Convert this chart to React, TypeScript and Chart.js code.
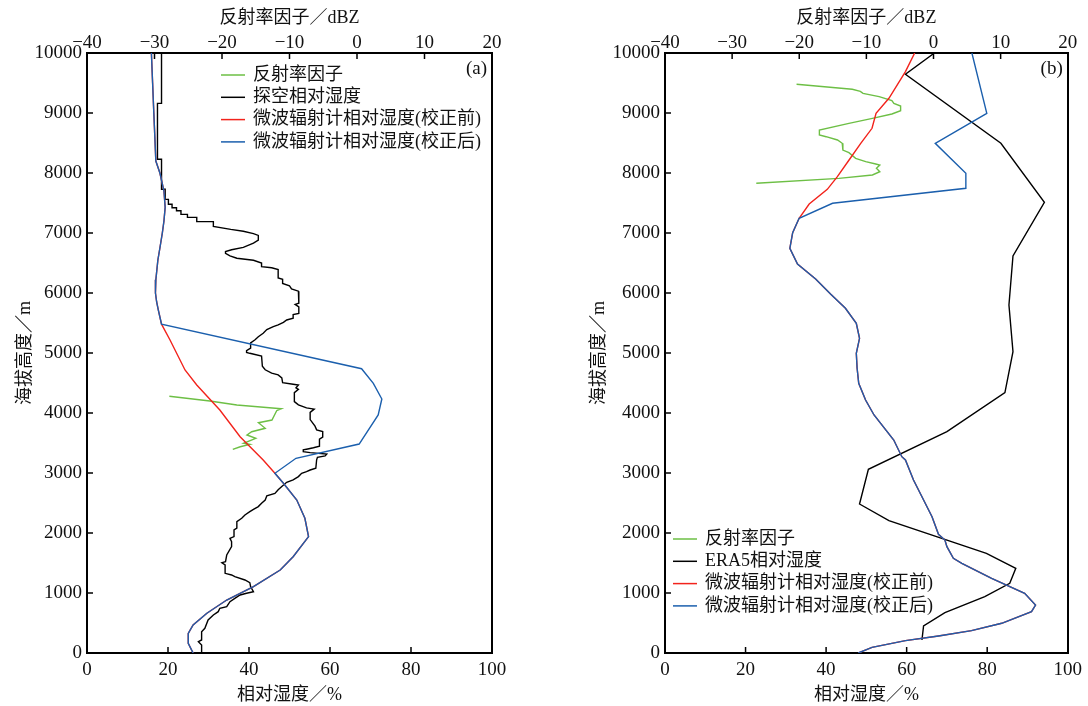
import React, { useEffect, useRef } from "react";
import { Chart, registerables } from "chart.js";

Chart.register(...registerables);

// ---------------- Panel (a) data ----------------
const aSondeRH = [18.4, 18.4, 17.4, 17.4, 18.4, 18.4, 19.3, 19.3, 20.1, 20.1, 21.0, 21.0, 22.1, 22.1, 23.2, 23.2, 24.8, 24.8, 27.1, 27.1, 31.2, 31.2, 35.5, 38.6, 41.1, 42.3, 42.3, 41.1, 38.6, 35.7, 34.2, 34.2, 35.3, 37.0, 41.1, 43.1, 43.1, 45.6, 47.2, 47.2, 48.3, 48.3, 50.0, 50.5, 52.2, 52.3, 52.3, 51.4, 52.3, 52.3, 50.9, 50.9, 49.3, 48.5, 47.2, 46.0, 44.4, 43.5, 42.3, 41.5, 40.4, 40.4, 39.4, 39.4, 40.2, 43.1, 43.3, 44.0, 45.6, 47.2, 48.1, 48.3, 50.9, 52.2, 51.6, 52.2, 51.2, 51.2, 52.2, 54.2, 56.1, 55.1, 55.1, 56.3, 56.7, 58.2, 58.2, 57.4, 57.4, 55.9, 54.5, 53.4, 53.4, 55.1, 59.2, 58.8, 56.9, 56.7, 56.5, 55.1, 54.2, 53.0, 52.2, 50.9, 49.3, 48.1, 47.2, 46.4, 44.4, 44.0, 43.1, 42.3, 41.1, 40.2, 39.0, 38.2, 37.0, 37.0, 36.3, 36.3, 35.3, 35.7, 35.7, 34.5, 34.2, 33.3, 34.1, 34.1, 35.7, 36.5, 39.0, 40.2, 40.4, 41.1, 39.4, 37.8, 36.5, 35.3, 34.5, 32.8, 32.4, 31.2, 29.9, 29.1, 28.3, 28.3, 27.5, 28.3, 28.3];
const aSondeH = [10000, 9160, 9160, 8230, 8230, 7730, 7730, 7560, 7560, 7480, 7480, 7420, 7420, 7370, 7370, 7310, 7310, 7260, 7260, 7190, 7190, 7110, 7060, 7030, 6990, 6960, 6880, 6830, 6760, 6720, 6690, 6660, 6620, 6580, 6545, 6500, 6440, 6420, 6390, 6250, 6230, 6160, 6120, 6070, 6030, 6020, 5830, 5810, 5770, 5660, 5640, 5580, 5550, 5510, 5470, 5440, 5390, 5330, 5270, 5220, 5170, 5080, 5040, 5010, 4995, 4950, 4780, 4720, 4665, 4635, 4585, 4505, 4480, 4467, 4420, 4395, 4340, 4190, 4135, 4085, 4065, 4010, 3890, 3780, 3720, 3690, 3600, 3565, 3445, 3420, 3400, 3385, 3355, 3340, 3315, 3285, 3262, 3220, 3080, 3050, 3022, 2995, 2940, 2885, 2845, 2775, 2720, 2660, 2620, 2550, 2495, 2440, 2395, 2355, 2300, 2245, 2190, 2080, 2050, 1940, 1910, 1855, 1772, 1633, 1522, 1505, 1467, 1328, 1300, 1272, 1217, 1172, 1105, 1022, 995, 967, 911, 855, 772, 745, 689, 633, 550, 412, 355, 217, 189, 133, 0];

const aBlueRH = [15.9, 16.2, 16.5, 17.0, 18.0, 19.0, 19.3, 19.0, 18.6, 18.0, 17.5, 17.0, 16.9, 17.2, 17.6, 18.4, 67.8, 70.7, 72.8, 71.9, 67.2, 51.6, 46.4, 48.5, 51.8, 53.8, 54.7, 50.9, 47.7, 41.1, 34.5, 29.6, 26.2, 25.0, 25.0, 26.2];
const aBlueH = [10000, 9500, 9000, 8200, 8000, 7700, 7430, 7200, 7000, 6750, 6550, 6220, 6000, 5850, 5720, 5480, 4738, 4495, 4233, 3967, 3483, 3245, 2995, 2828, 2550, 2245, 1940, 1605, 1383, 1105, 883, 662, 467, 328, 162, 0];

const aRedRH = [15.9, 16.2, 16.5, 17.0, 18.0, 19.0, 19.3, 19.0, 18.6, 18.0, 17.5, 17.0, 16.9, 17.2, 17.6, 18.4, 20.5, 24.2, 27.1, 32.8, 37.8, 43.5, 46.4, 48.5, 51.8, 53.8, 54.7, 50.9, 47.7, 41.1, 34.5, 29.6, 26.2, 25.0, 25.0, 26.2];
const aRedH = [10000, 9500, 9000, 8200, 8000, 7700, 7430, 7200, 7000, 6750, 6550, 6220, 6000, 5850, 5720, 5480, 5217, 4717, 4467, 4050, 3605, 3217, 2995, 2828, 2550, 2245, 1940, 1605, 1383, 1105, 883, 662, 467, 328, 162, 0];

const aDbz = [-27.8, -21.8, -17.8, -11.2, -11.9, -12.6, -14.6, -13.6, -15.6, -16.3, -15.0, -16.8, -15.9, -17.3, -18.4];
const aDbzH = [4278, 4200, 4133, 4072, 4038, 3883, 3838, 3745, 3688, 3633, 3578, 3495, 3478, 3438, 3395];

// ---------------- Panel (b) data ----------------
const bEraRH = [66.9, 59.7, 83.4, 94.2, 86.4, 85.4, 86.4, 84.4, 70.0, 50.5, 48.3, 55.6, 79.8, 87.1, 85.6, 79.4, 69.5, 64.2, 63.8];
const bEraH = [10000, 9645, 8495, 7512, 6617, 5800, 5022, 4339, 3689, 3061, 2483, 2206, 1661, 1411, 1161, 939, 672, 450, 217];

const bBlueRH = [76.2, 79.9, 67.1, 74.7, 74.7, 41.6, 33.3, 31.7, 31.0, 32.9, 37.4, 41.1, 44.8, 47.5, 48.3, 47.5, 47.7, 48.1, 49.8, 51.9, 56.8, 58.8, 59.7, 61.7, 63.8, 66.3, 67.9, 69.5, 70.0, 71.6, 73.7, 81.1, 89.3, 92.0, 91.0, 83.6, 76.1, 67.9, 59.7, 51.4, 48.0];
const bBlueH = [10000, 8995, 8495, 7995, 7745, 7495, 7245, 7005, 6745, 6483, 6233, 5983, 5745, 5495, 5245, 4995, 4745, 4495, 4217, 3967, 3550, 3272, 3217, 2883, 2605, 2272, 1978, 1883, 1772, 1578, 1495, 1245, 995, 800, 689, 495, 372, 283, 206, 94, 0];

const bRedRH = [62.0, 59.7, 55.6, 52.4, 51.4, 48.6, 45.7, 42.8, 40.3, 35.8, 33.3, 31.7, 31.0, 32.9, 37.4, 41.1, 44.8, 47.5, 48.3, 47.5, 47.7, 48.1, 49.8, 51.9, 56.8, 58.8, 59.7, 61.7, 63.8, 66.3, 67.9, 69.5, 70.0, 71.6, 73.7, 81.1, 89.3, 92.0, 91.0, 83.6, 76.1, 67.9, 59.7, 51.4, 48.0];
const bRedH = [10000, 9690, 9245, 8995, 8745, 8495, 8217, 7939, 7728, 7483, 7245, 7005, 6745, 6483, 6233, 5983, 5745, 5495, 5245, 4995, 4745, 4495, 4217, 3967, 3550, 3272, 3217, 2883, 2605, 2272, 1978, 1883, 1772, 1578, 1495, 1245, 995, 800, 689, 495, 372, 283, 206, 94, 0];

const bDbz = [-20.4, -12.1, -10.9, -10.5, -8.1, -6.2, -5.9, -4.9, -4.9, -6.2, -9.1, -12.6, -17.0, -17.0, -16.0, -14.3, -13.6, -13.5, -12.6, -11.6, -10.1, -8.6, -8.0, -8.5, -8.0, -9.1, -14.1, -26.4];
const bDbzH = [9478, 9395, 9361, 9328, 9272, 9206, 9161, 9117, 9039, 8983, 8911, 8828, 8717, 8633, 8605, 8550, 8495, 8383, 8339, 8245, 8189, 8150, 8133, 8078, 8022, 7967, 7911, 7828];

// ---------------- Labels ----------------
const legendA = ["反射率因子", "探空相对湿度", "微波辐射计相对湿度(校正前)", "微波辐射计相对湿度(校正后)"];
const legendB = ["反射率因子", "ERA5相对湿度", "微波辐射计相对湿度(校正前)", "微波辐射计相对湿度(校正后)"];
const xTitle = "相对湿度／%";
const x2Title = "反射率因子／dBZ";
const yTitle = "海拔高度／m";

const GREEN = "#6dbf45";
const BLACK = "#000000";
const RED = "#f2231c";
const BLUE = "#1b5fad";
const FONT = "'Liberation Serif', 'Times New Roman', 'Noto Sans CJK SC', serif";

const pairs = (xs: number[], ys: number[]) => xs.map((x, i) => ({ x, y: ys[i] }));
const minus = (v: any) => String(v).replace("-", "\u2212");

const inwardTicks = {
  id: "inwardTicks",
  afterDraw(chart: any) {
    const ctx = chart.ctx;
    const a = chart.chartArea;
    const L = 6;
    ctx.save();
    ctx.strokeStyle = "#000";
    ctx.lineWidth = 1.5;
    const line = (x1: number, y1: number, x2: number, y2: number) => {
      ctx.beginPath();
      ctx.moveTo(x1, y1);
      ctx.lineTo(x2, y2);
      ctx.stroke();
    };
    const sx = chart.scales.x;
    sx.ticks.forEach((t: any) => {
      const p = sx.getPixelForValue(t.value);
      line(p, a.bottom, p, a.bottom - L);
    });
    const sx2 = chart.scales.x2;
    sx2.ticks.forEach((t: any) => {
      const p = sx2.getPixelForValue(t.value);
      line(p, a.top, p, a.top + L);
    });
    const sy = chart.scales.y;
    sy.ticks.forEach((t: any) => {
      const p = sy.getPixelForValue(t.value);
      line(a.left, p, a.left + L, p);
    });
    ctx.restore();
  },
};

const customLegend = {
  id: "customLegend",
  afterDraw(chart: any, _args: any, opts: any) {
    const ctx = chart.ctx;
    const a = chart.chartArea;
    ctx.save();
    ctx.font = `18px ${FONT}`;
    ctx.textBaseline = "middle";
    ctx.textAlign = "left";
    opts.items.forEach((label: string, i: number) => {
      const y = opts.y0 + i * opts.spacing;
      ctx.strokeStyle = opts.colors[i];
      ctx.lineWidth = 1.5;
      ctx.beginPath();
      ctx.moveTo(opts.x0, y);
      ctx.lineTo(opts.x0 + opts.len, y);
      ctx.stroke();
      ctx.fillStyle = "#111";
      ctx.fillText(label, opts.x0 + opts.len + 8, y);
    });
    ctx.font = `19px ${FONT}`;
    ctx.textAlign = "right";
    ctx.fillStyle = "#111";
    ctx.fillText(opts.panel, a.right - 5, a.top + 16);
    ctx.restore();
  },
};

function makeConfig(p: {
  sonde: { x: number; y: number }[];
  red: { x: number; y: number }[];
  blue: { x: number; y: number }[];
  dbz: { x: number; y: number }[];
  legend: string[];
  panel: string;
  yWidth: number;
  rightWidth: number;
  yTitlePad: number;
  legendX: number;
  legendY: number;
}) {
  const tickFont = { family: FONT, size: 19 };
  const titleFont = { family: FONT, size: 18 };
  const ds = (data: any, color: string, order: number, xAxisID = "x") => ({
    data,
    borderColor: color,
    backgroundColor: color,
    borderWidth: 1.4,
    showLine: true,
    pointRadius: 0,
    pointHoverRadius: 0,
    tension: 0,
    order,
    xAxisID,
    yAxisID: "y",
  });
  return {
    type: "scatter" as const,
    data: {
      datasets: [
        ds(p.dbz, GREEN, 3, "x2"),
        ds(p.sonde, BLACK, 2),
        ds(p.red, RED, 1),
        ds(p.blue, BLUE, 0),
      ],
    },
    options: {
      animation: false,
      responsive: false,
      maintainAspectRatio: false,
      devicePixelRatio: 1,
      layout: { padding: 0 },
      events: [],
      plugins: {
        legend: { display: false },
        tooltip: { enabled: false },
        customLegend: {
          items: p.legend,
          colors: [GREEN, BLACK, RED, BLUE],
          x0: p.legendX,
          y0: p.legendY,
          len: 24,
          spacing: 22.3,
          panel: p.panel,
        },
      },
      scales: {
        x: {
          type: "linear",
          position: "bottom",
          min: 0,
          max: 100,
          ticks: { stepSize: 20, autoSkip: false, maxRotation: 0, padding: 6, font: tickFont, color: "#111", callback: minus },
          grid: { display: false, drawTicks: false },
          border: { display: true, color: "#000", width: 2 },
          title: { display: true, text: xTitle, font: titleFont, color: "#111", padding: { top: 0, bottom: 0 } },
          afterFit: (s: any) => {
            s.height = 53;
          },
        },
        x2: {
          type: "linear",
          position: "top",
          min: -40,
          max: 20,
          ticks: { stepSize: 10, autoSkip: false, maxRotation: 0, padding: -1, font: tickFont, color: "#111", callback: minus },
          grid: { display: false, drawTicks: false },
          border: { display: true, color: "#000", width: 2 },
          title: { display: true, text: x2Title, font: titleFont, color: "#111", padding: { top: 7, bottom: 7 } },
          afterFit: (s: any) => {
            s.height = 53;
          },
        },
        y: {
          type: "linear",
          position: "left",
          min: 0,
          max: 10000,
          ticks: { stepSize: 1000, autoSkip: false, padding: 5, font: tickFont, color: "#111", callback: minus },
          grid: { display: false, drawTicks: false },
          border: { display: true, color: "#000", width: 2 },
          title: { display: true, text: yTitle, font: titleFont, color: "#111", padding: { top: p.yTitlePad, bottom: p.yTitlePad } },
          afterFit: (s: any) => {
            s.width = p.yWidth;
          },
        },
        y2: {
          type: "linear",
          position: "right",
          min: 0,
          max: 10000,
          ticks: { display: false },
          grid: { display: false, drawTicks: false },
          border: { display: true, color: "#000", width: 2 },
          afterFit: (s: any) => {
            s.width = p.rightWidth;
          },
        },
      },
    },
    plugins: [inwardTicks, customLegend],
  };
}

function Panel(props: { left: number; width: number; config: any }) {
  const ref = useRef<HTMLCanvasElement | null>(null);
  useEffect(() => {
    if (!ref.current) return;
    const chart = new Chart(ref.current, props.config);
    return () => chart.destroy();
  }, []);
  return (
    <canvas
      ref={ref}
      width={props.width}
      height={706}
      style={{ position: "absolute", left: props.left, top: 0, width: props.width, height: 706 }}
    />
  );
}

export default function App() {
  const cfgA = makeConfig({
    sonde: pairs(aSondeRH, aSondeH),
    red: pairs(aRedRH, aRedH),
    blue: pairs(aBlueRH, aBlueH),
    dbz: pairs(aDbz, aDbzH),
    legend: legendA,
    panel: "(a)",
    yWidth: 87,
    rightWidth: 48,
    yTitlePad: 14,
    legendX: 221,
    legendY: 75,
  });
  const cfgB = makeConfig({
    sonde: pairs(bEraRH, bEraH),
    red: pairs(bRedRH, bRedH),
    blue: pairs(bBlueRH, bBlueH),
    dbz: pairs(bDbz, bDbzH),
    legend: legendB,
    panel: "(b)",
    yWidth: 125,
    rightWidth: 17,
    yTitlePad: 48,
    legendX: 133,
    legendY: 539,
  });
  return (
    <div style={{ position: "absolute", left: 0, top: 0, width: 1088, height: 706, background: "#fff", overflow: "hidden" }}>
      <Panel left={0} width={540} config={cfgA} />
      <Panel left={540} width={548} config={cfgB} />
    </div>
  );
}
